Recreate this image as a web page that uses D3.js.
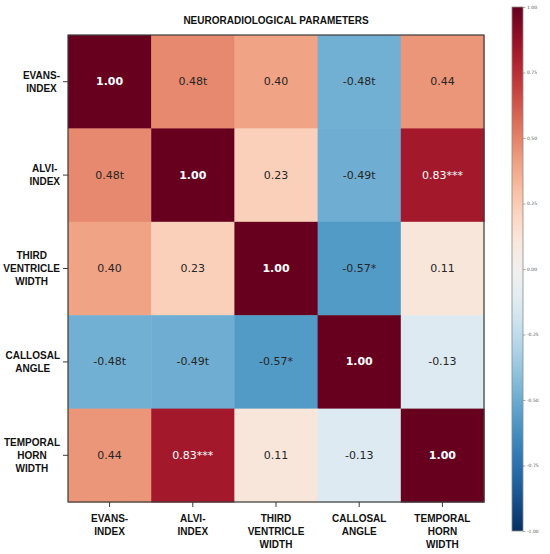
<!DOCTYPE html>
<html>
<head>
<meta charset="utf-8">
<script src="https://cdn.jsdelivr.net/npm/d3@7"></script>
<style>
  body { margin: 0; background: #fff; }
</style>
</head>
<body>
<div id="chart"></div>
<script>
// parameters (rows and columns are the same)
let params = [
  'EVANS-\nINDEX',
  'ALVI-\nINDEX',
  'THIRD\nVENTRICLE\nWIDTH',
  'CALLOSAL\nANGLE',
  'TEMPORAL\nHORN\nWIDTH'
]

// correlation coefficients
let corr = [
  [1.0, 0.48, 0.4, -0.48, 0.44],
  [0.48, 1.0, 0.23, -0.49, 0.83],
  [0.4, 0.23, 1.0, -0.57, 0.11],
  [-0.48, -0.49, -0.57, 1.0, -0.13],
  [0.44, 0.83, 0.11, -0.13, 1.0]
]

// significance markers appended to the numbers
let sig = [
  ['', 't', '', 't', ''],
  ['t', '', '', 't', '***'],
  ['', '', '', '*', ''],
  ['t', 't', '*', '', ''],
  ['', '***', '', '', '']
]

let cbTicks = [1, 0.75, 0.5, 0.25, 0, -0.25, -0.5, -0.75, -1]

let margin = { top: 35, left: 68, right: 66, bottom: 52 }
let width = 550 - margin.left - margin.right
let height = 554 - margin.top - margin.bottom

// plain hyphen for negatives, like the original
let fmt = d3.formatLocale({
  decimal: '.',
  thousands: ',',
  grouping: [3],
  currency: ['', ''],
  minus: '-'
}).format('.2f')

let root = d3
  .select('#chart')
  .append('svg')
  .attr('width', 550)
  .attr('height', 554)

let svg = root
  .append('g')
  .attr('transform', `translate(${margin.left},${margin.top})`)

let x = d3.scaleBand().domain(d3.range(params.length)).range([0, width])
let y = d3.scaleBand().domain(d3.range(params.length)).range([0, height])

let colorScale = d3.scaleSequential(d3.interpolateRdBu).domain([1, -1])

let cells = []
corr.forEach((row, i) => {
  row.forEach((v, j) => {
    cells.push({ i, j, v, s: sig[i][j] })
  })
})

svg
  .selectAll('.cell')
  .data(cells)
  .enter()
  .append('rect')
  .attr('class', 'cell')
  .attr('x', d => x(d.j))
  .attr('y', d => y(d.i))
  .attr('width', x.bandwidth() + 0.5)
  .attr('height', y.bandwidth() + 0.5)
  .attr('fill', d => colorScale(d.v))

svg
  .selectAll('.cell-label')
  .data(cells)
  .enter()
  .append('text')
  .attr('class', 'cell-label')
  .attr('x', d => x(d.j) + x.bandwidth() / 2)
  .attr('y', d => y(d.i) + y.bandwidth() / 2)
  .attr('text-anchor', 'middle')
  .attr('dominant-baseline', 'central')
  .attr('font-family', 'DejaVu Sans')
  .attr('font-size', 11)
  .attr('font-weight', d => (d.i === d.j ? 'bold' : 'normal'))
  .attr('fill', d => (d.v > 0.7 ? '#ffffff' : '#262626'))
  .text(d => fmt(d.v) + d.s)

// frame
svg
  .append('rect')
  .attr('width', width)
  .attr('height', height)
  .attr('fill', 'none')
  .attr('stroke', '#3a3a3a')
  .attr('stroke-width', 1.2)

let labelFont = '"Liberation Sans", Arial, sans-serif'
let lineH = 13

// y axis
let yAxis = svg.append('g').attr('class', 'y-axis')
let yTicks = yAxis
  .selectAll('.tick')
  .data(d3.range(params.length))
  .enter()
  .append('g')
  .attr('transform', d => `translate(0,${y(d) + y.bandwidth() / 2})`)

yTicks
  .append('line')
  .attr('x1', -5)
  .attr('x2', 0)
  .attr('stroke', '#3a3a3a')

yTicks.each(function(d) {
  let g = d3.select(this)
  let lines = params[d].split('\n')
  let t = g
    .append('text')
    .attr('font-family', labelFont)
    .attr('font-weight', 'bold')
    .attr('font-size', 10)
    .attr('fill', '#111')
    .attr('text-anchor', 'middle')
  lines.forEach((l, k) => {
    t.append('tspan')
      .attr('x', 0)
      .attr('y', (k - (lines.length - 1) / 2) * lineH)
      .attr('dy', '0.35em')
      .text(l)
  })
  // centre the block, right edge next to the tick
  let w = d3.max(t.selectAll('tspan').nodes(), n => n.getComputedTextLength())
  t.selectAll('tspan').attr('x', -8 - w / 2)
})

// x axis
let xAxis = svg
  .append('g')
  .attr('class', 'x-axis')
  .attr('transform', `translate(0,${height})`)
let xTicks = xAxis
  .selectAll('.tick')
  .data(d3.range(params.length))
  .enter()
  .append('g')
  .attr('transform', d => `translate(${x(d) + x.bandwidth() / 2},0)`)

xTicks
  .append('line')
  .attr('y1', 0)
  .attr('y2', 5)
  .attr('stroke', '#3a3a3a')

xTicks.each(function(d) {
  let lines = params[d].split('\n')
  let t = d3
    .select(this)
    .append('text')
    .attr('font-family', labelFont)
    .attr('font-weight', 'bold')
    .attr('font-size', 10)
    .attr('fill', '#111')
    .attr('text-anchor', 'middle')
  lines.forEach((l, k) => {
    t.append('tspan')
      .attr('x', 0)
      .attr('y', 16 + k * lineH)
      .attr('dy', '0.35em')
      .text(l)
  })
})

// title
root
  .append('text')
  .attr('x', margin.left + width / 2)
  .attr('y', 20)
  .attr('text-anchor', 'middle')
  .attr('dominant-baseline', 'central')
  .attr('font-family', labelFont)
  .attr('font-weight', 'bold')
  .attr('font-size', 10)
  .attr('fill', '#111')
  .text('NEURORADIOLOGICAL PARAMETERS')

// colorbar
let cb = { x: 512, y: 7, w: 11, h: 524 }
let cbScale = d3.scaleLinear().domain([1, -1]).range([0, cb.h])

let defs = root.append('defs')
let grad = defs
  .append('linearGradient')
  .attr('id', 'cb-grad')
  .attr('x1', 0)
  .attr('y1', 0)
  .attr('x2', 0)
  .attr('y2', 1)
grad
  .selectAll('stop')
  .data(d3.range(0, 1.0001, 0.05))
  .enter()
  .append('stop')
  .attr('offset', d => d)
  .attr('stop-color', d => colorScale(1 - 2 * d))

let cbG = root.append('g').attr('transform', `translate(${cb.x},${cb.y})`)
cbG
  .append('rect')
  .attr('width', cb.w)
  .attr('height', cb.h)
  .attr('fill', 'url(#cb-grad)')
  .attr('stroke', '#8a8a8a')
  .attr('stroke-width', 0.8)

let cbAxis = cbG
  .append('g')
  .attr('transform', `translate(${cb.w},0)`)
  .call(
    d3
      .axisRight(cbScale)
      .tickValues(cbTicks)
      .tickSize(2.5)
      .tickPadding(1.5)
      .tickFormat(fmt)
  )
cbAxis.select('.domain').remove()
cbAxis.selectAll('line').attr('stroke', '#777').attr('stroke-width', 0.6)
cbAxis
  .selectAll('text')
  .attr('font-family', 'DejaVu Sans')
  .attr('font-size', 4.5)
  .attr('fill', '#555')
</script>
</body>
</html>
